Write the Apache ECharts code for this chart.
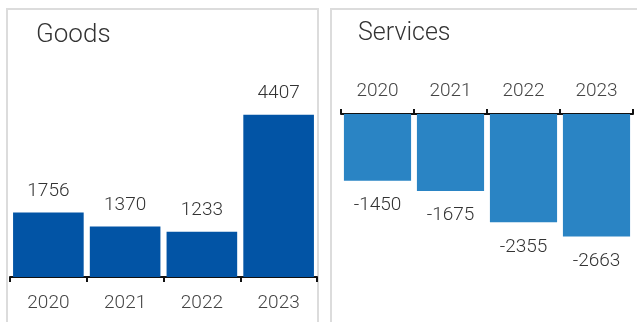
<!DOCTYPE html>
<html>
<head>
<meta charset="utf-8">
<style>
  html, body { margin: 0; padding: 0; background: #fff; }
  #chart { width: 637px; height: 322px; }
</style>
<script src="https://cdn.jsdelivr.net/npm/echarts@6/dist/echarts.min.js"></script>
</head>
<body>
<div id="chart"></div>
<script>
// Trade balance by year, split into goods and services
const years = ['2020', '2021', '2022', '2023'];
const goodsValues = [1756, 1370, 1233, 4407];
const servicesValues = [-1450, -1675, -2355, -2663];

const FONT = 'Roboto, "Open Sans", sans-serif';

const chart = echarts.init(document.getElementById('chart'), null, { renderer: 'canvas' });

const axisLineStyle = { show: true, lineStyle: { color: '#111', width: 2 } };
const axisTickStyle = { show: true, length: 5, lineStyle: { color: '#111', width: 2 } };
const catLabelBottom = { color: '#444', fontSize: 19, fontWeight: 300, fontFamily: FONT, margin: 17 };
const catLabelTop = { color: '#444', fontSize: 19, fontWeight: 300, fontFamily: FONT, margin: 13 };
const valueLabelStyle = { color: '#333', fontSize: 19, fontWeight: 300, fontFamily: FONT };

chart.setOption({
  animation: false,
  backgroundColor: '#fff',
  title: [
    { text: 'Goods', left: 36, top: 22, padding: 0,
      textStyle: { fontSize: 26, fontWeight: 300, color: '#333', fontFamily: FONT } },
    { text: 'Services', left: 358, top: 21, padding: 0,
      textStyle: { fontSize: 25, fontWeight: 300, color: '#333', fontFamily: FONT } }
  ],
  graphic: [
    { type: 'rect', shape: { x: 7, y: 9, width: 311, height: 340 },
      style: { fill: 'none', stroke: '#dcdcdc', lineWidth: 2 }, silent: true, z: -1 },
    { type: 'rect', shape: { x: 331, y: 9, width: 320, height: 340 },
      style: { fill: 'none', stroke: '#dcdcdc', lineWidth: 2 }, silent: true, z: -1 }
  ],
  grid: [
    { left: 10, right: 320, top: 93, bottom: 45 },
    { left: 341, right: 4, top: 114, bottom: 24 }
  ],
  xAxis: [
    { type: 'category', gridIndex: 0, data: years, position: 'bottom',
      axisLine: axisLineStyle, axisTick: axisTickStyle, axisLabel: catLabelBottom },
    { type: 'category', gridIndex: 1, data: years, position: 'top',
      axisLine: axisLineStyle, axisTick: axisTickStyle, axisLabel: catLabelTop }
  ],
  yAxis: [
    { type: 'value', gridIndex: 0, min: 0, max: 5000, show: false, splitLine: { show: false } },
    { type: 'value', gridIndex: 1, min: -4000, max: 0, show: false, splitLine: { show: false } }
  ],
  series: [
    { name: 'Goods', type: 'bar', xAxisIndex: 0, yAxisIndex: 0, data: goodsValues,
      barCategoryGap: '8%', itemStyle: { color: '#0254a5' },
      label: Object.assign({ show: true, position: 'top', distance: 12 }, valueLabelStyle) },
    { name: 'Services', type: 'bar', xAxisIndex: 1, yAxisIndex: 1, data: servicesValues,
      barCategoryGap: '8%', itemStyle: { color: '#2a84c4' },
      label: Object.assign({ show: true, position: 'bottom', distance: 15 }, valueLabelStyle) }
  ]
});
</script>
</body>
</html>
